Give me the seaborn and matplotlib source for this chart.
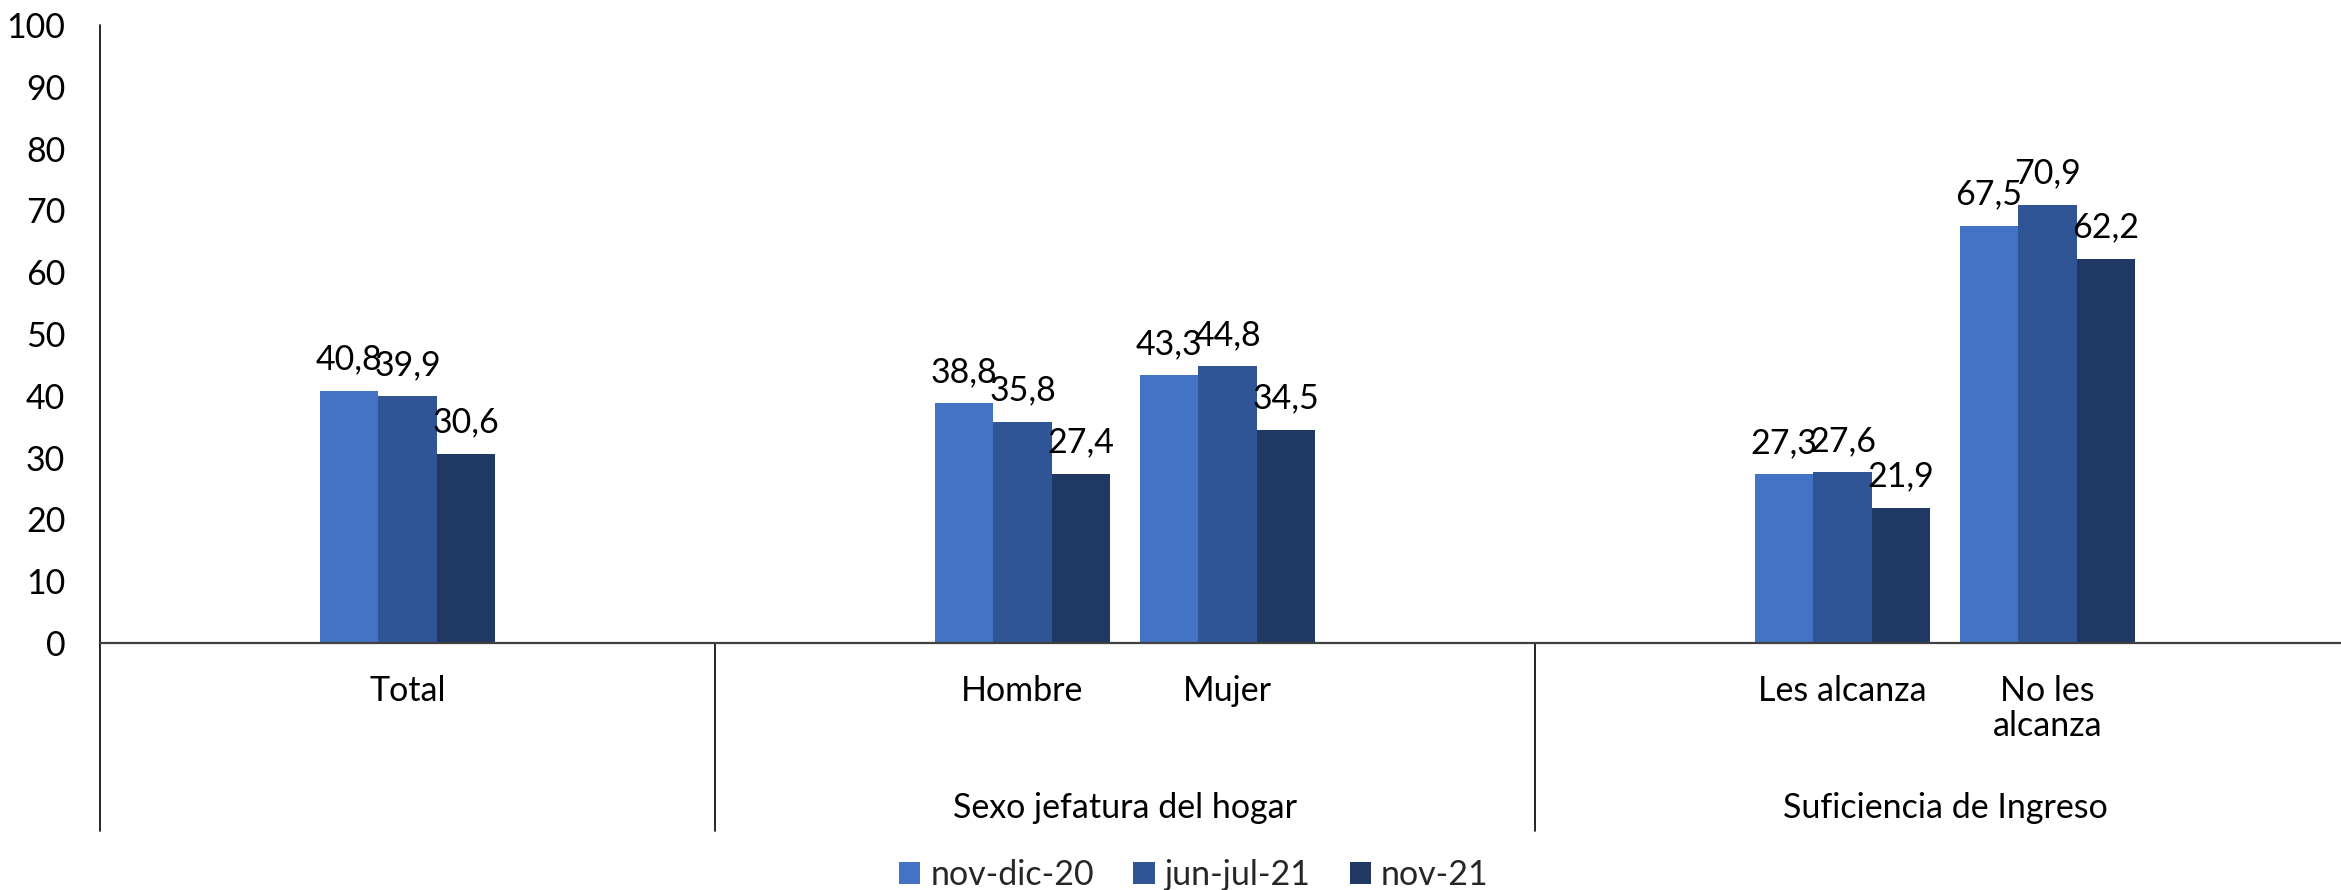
import matplotlib
matplotlib.use("Agg")
import matplotlib.pyplot as plt
import seaborn as sns
import pandas as pd
from matplotlib.patches import Patch
from matplotlib.lines import Line2D
from matplotlib.transforms import blended_transform_factory

# ---------------- data ----------------
categories = ["Total", "Hombre", "Mujer", "Les alcanza", "No les\nalcanza"]
category_group = [0, 1, 1, 2, 2]
groups = ["", "Sexo jefatura del hogar", "Suficiencia de Ingreso"]
series = ["nov-dic-20", "jun-jul-21", "nov-21"]
nov_dic_20 = [40.8, 38.8, 43.3, 27.3, 67.5]
jun_jul_21 = [39.9, 35.8, 44.8, 27.6, 70.9]
nov_21 = [30.6, 27.4, 34.5, 21.9, 62.2]
yticks = [0, 10, 20, 30, 40, 50, 60, 70, 80, 90, 100]
colors = ["#4472C4", "#2F5597", "#203864"]

# ---------------- long table ----------------
rows = []
for s, vals in zip(series, [nov_dic_20, jun_jul_21, nov_21]):
    for c, v in zip(categories, vals):
        rows.append({"cat": c, "serie": s, "value": v})
df = pd.DataFrame(rows)

# slot order with one empty slot padding each side of every group (Excel multi-level axis)
order = []
group_spans = []
pad = 0
for g, name in enumerate(groups):
    start = len(order)
    pad += 1
    order.append(" " * pad)
    for c, gi in zip(categories, category_group):
        if gi == g:
            order.append(c)
    pad += 1
    order.append(" " * pad)
    group_spans.append((start - 0.5, len(order) - 0.5))

# ---------------- style ----------------
sns.set_theme(style="white")
plt.rcParams["font.family"] = ["Lato", "DejaVu Sans"]
FS = 24.5

W, H = 2341, 890
fig = plt.figure(figsize=(W / 100, H / 100), dpi=100)
ax_left, ax_bottom_px, ax_top_px = 100, 643, 25
slot_px = 205
ax_w = slot_px * len(order)
ax = fig.add_axes([ax_left / W, (H - ax_bottom_px) / H, ax_w / W, (ax_bottom_px - ax_top_px) / H])

sns.barplot(data=df, x="cat", y="value", hue="serie", order=order, hue_order=series,
            palette=colors, saturation=1, width=0.856, linewidth=0, ax=ax, legend=False)

ax.set_xlim(-0.5, len(order) - 0.5)
ax.set_ylim(0, 100)
ax.set_yticks(yticks)
ax.set_yticklabels([str(t) for t in yticks], fontsize=FS, color="black")
ax.set_xticks(range(len(order)))
ax.set_xticklabels([o if o.strip() else "" for o in order], fontsize=FS, color="black",
                   linespacing=1.1)
ax.tick_params(axis="y", length=0, pad=25)
ax.tick_params(axis="x", length=0, pad=23)
ax.set_xlabel("")
ax.set_ylabel("")
ax.grid(False)

for side in ["top", "right", "left"]:
    ax.spines[side].set_visible(False)
ax.spines["bottom"].set_color("#404040")
ax.spines["bottom"].set_linewidth(1.6)

# data labels
for cont in ax.containers:
    labels = [f"{v:.1f}".replace(".", ",") for v in cont.datavalues]
    ax.bar_label(cont, labels=labels, padding=11, fontsize=FS, color="black")

# vertical axis line and group separators
trans = blended_transform_factory(ax.transData, ax.transAxes)
low = (ax_bottom_px - 831) / (ax_bottom_px - ax_top_px)
ax.add_line(Line2D([-0.5, -0.5], [low, 1.0], transform=trans, color="black", lw=1.2, clip_on=False))
for (a, b) in group_spans[1:]:
    ax.add_line(Line2D([a, a], [low, 0.0], transform=trans, color="black", lw=1.2, clip_on=False))

# group labels
gtrans = blended_transform_factory(ax.transData, fig.transFigure)
for (a, b), name in zip(group_spans, groups):
    if name:
        ax.text((a + b) / 2, 1 - 808 / H, name, transform=gtrans, ha="center", va="center",
                fontsize=FS, color="black")

# legend
handles = [Patch(facecolor=c, edgecolor="none", label=s) for c, s in zip(colors, series)]
fig.legend(handles=handles, loc="center", bbox_to_anchor=(1194 / W, 1 - 875 / H), ncol=3,
           frameon=False, fontsize=FS, handlelength=0.62, handleheight=0.62,
           handletextpad=0.3, columnspacing=1.15, borderpad=0)

fig.savefig("out.png", dpi=100)
